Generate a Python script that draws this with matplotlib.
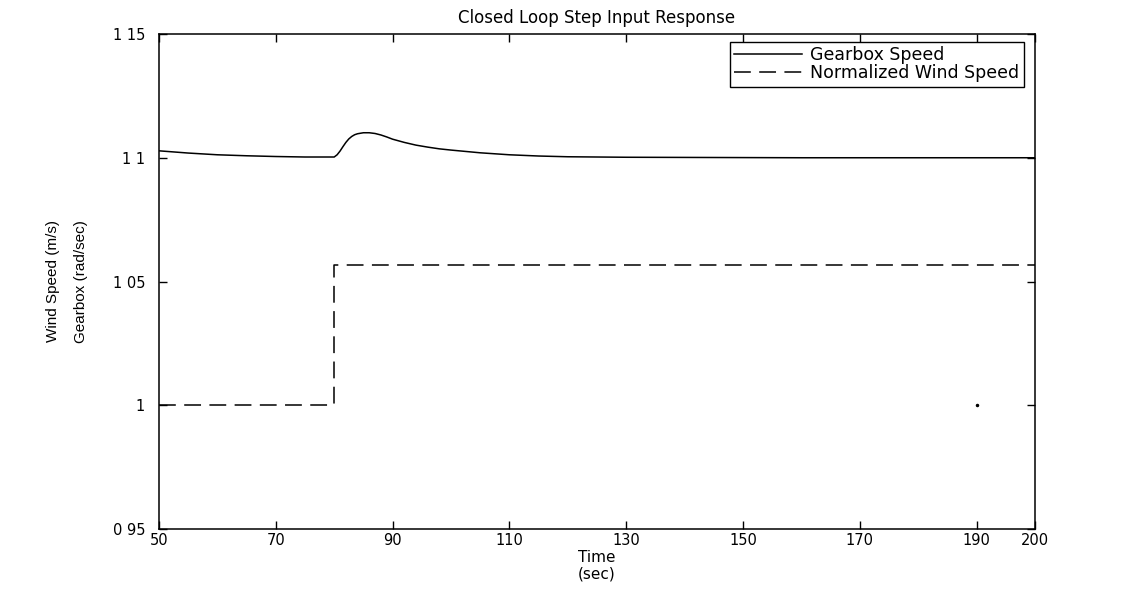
import matplotlib.pyplot as plt

# Gearbox speed response
gear_t = [50, 55, 60, 65, 70, 75, 80, 80.5, 81, 81.5, 82, 82.5, 83, 83.5, 84,
          85, 86, 87, 88, 89, 90, 92, 94, 96, 98, 100, 105, 110, 115, 120,
          130, 160, 200]
gear_v = [1.1028, 1.1019, 1.1012, 1.1008, 1.1005, 1.1003, 1.1003, 1.1012,
          1.1027, 1.1045, 1.1062, 1.1076, 1.1086, 1.1093, 1.1097, 1.1101,
          1.1101, 1.1098, 1.1092, 1.1084, 1.1075, 1.1062, 1.1051, 1.1043,
          1.1036, 1.1031, 1.1020, 1.1012, 1.1007, 1.1004, 1.1002, 1.1000,
          1.1000]

# Normalized wind speed step
wind_t = [50, 80, 80, 200]
wind_v = [1.0, 1.0, 1.0565, 1.0565]

# stray dot in the original
dot_t = [190]
dot_v = [1.0]

xticks = [50, 70, 90, 110, 130, 150, 170, 190, 200]
yticks = [0.95, 1.0, 1.05, 1.1, 1.15]
ytick_labels = ['0 95', '1', '1 05', '1 1', '1 15']

plt.rcParams['font.family'] = ['DejaVu Sans']

fig = plt.figure(figsize=(11.36, 5.93), dpi=100)
ax = fig.add_axes([159 / 1136, 1 - 529 / 593, 876 / 1136, 495 / 593])

ax.plot(gear_t, gear_v, color='black', linewidth=1.1, label='Gearbox Speed')
ax.plot(wind_t, wind_v, color='black', linewidth=1.1, linestyle=(0, (11, 5.5)),
        label='Normalized Wind Speed')
ax.plot(dot_t, dot_v, 'o', color='black', markersize=1.5)

ax.set_xlim(50, 200)
ax.set_ylim(0.95, 1.15)
ax.set_xticks(xticks)
ax.set_xticklabels([str(x) for x in xticks])
ax.set_yticks(yticks)
ax.set_yticklabels(ytick_labels)
ax.tick_params(direction='in', length=6, width=1, top=True, right=True,
               labelsize=10.5)
ax.tick_params(axis='x', pad=3)
ax.tick_params(axis='y', pad=10)
for s in ax.spines.values():
    s.set_linewidth(1.1)

ax.set_title('Closed Loop Step Input Response', fontsize=12, pad=8)
ax.set_xlabel('Time\n(sec)', fontsize=11, labelpad=1, linespacing=1.15)
ax.set_ylabel('Wind Speed (m/s)\nGearbox (rad/sec)', fontsize=11,
              family='Liberation Sans', linespacing=2.2, labelpad=18)

leg = ax.legend(loc='upper right', bbox_to_anchor=(0.9874, 0.9838),
                borderaxespad=0, fancybox=False, framealpha=1,
                edgecolor='black', fontsize=12.5, handlelength=3.9,
                handletextpad=0.5, labelspacing=0.0, borderpad=0.25)
leg.get_frame().set_linewidth(1.0)

fig.savefig('out.png', dpi=100)
